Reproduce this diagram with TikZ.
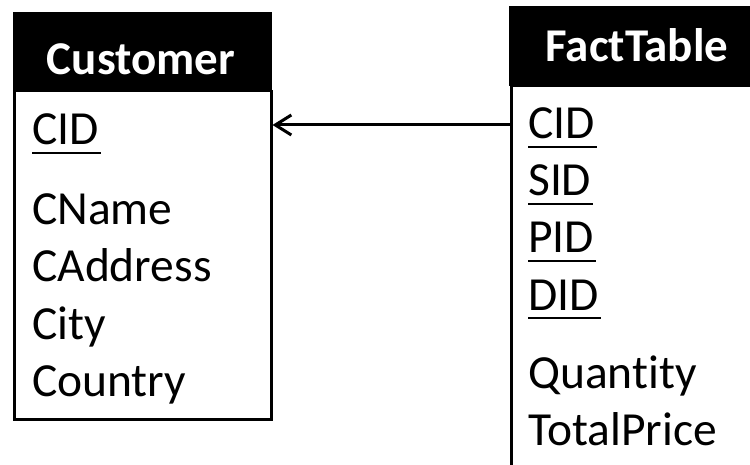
\documentclass[tikz,border=0pt]{standalone}
\usepackage{fontspec}
\setmainfont{Carlito}[Ligatures=NoCommon]
\usetikzlibrary{arrows.meta}
\begin{document}
\begin{tikzpicture}[x=1pt,y=-1pt,
  hdrbox/.style={fill=black, draw=black, line width=1pt, inner sep=0pt, anchor=north west},
  bodybox/.style={draw=black, line width=2.5pt, inner sep=0pt, anchor=north west},
  hdrtext/.style={text=white, font=\fontsize{47}{56}\selectfont\bfseries, inner sep=0pt, anchor=base},
  attr/.style={font=\fontsize{47.5}{57}\selectfont, inner sep=0pt, anchor=base west},
  uline/.style={line width=2.5pt},
  fk/.style={line width=3pt, -{Straight Barb[length=16pt,width=20pt,line width=3pt]}}]
\useasboundingbox (0,0) rectangle (750,465);
\clip (0,0) rectangle (750,465);
% Customer table
\node[bodybox, minimum width=257pt, minimum height=328pt] (custbody) at (13,90) {};
\node[hdrbox, minimum width=258pt, minimum height=78pt] (custhead) at (13,12) {};
\node[hdrtext] (custname) at (141,75) {Customer};
\node[attr] (ccid) at (32,145) {CID};
\node[attr] (cname) at (32,225) {CName};
\node[attr] (caddr) at (32,282) {CAddress};
\node[attr] (ccity) at (32,339) {City};
\node[attr] (ccountry) at (32,396) {Country};
\draw[uline] ([shift={(0pt,-8pt)}]ccid.base west) -- ([shift={(2pt,-8pt)}]ccid.base east);
% FactTable
\node[bodybox, minimum width=260pt, minimum height=395pt] (factbody) at (510,85) {};
\node[hdrbox, minimum width=257pt, minimum height=79pt] (facthead) at (509,6) {};
\node[hdrtext] (factname) at (637,62) {FactTable};
\node[attr] (fcid) at (528,139) {CID};
\node[attr] (fsid) at (528,196) {SID};
\node[attr] (fpid) at (528,253) {PID};
\node[attr] (fdid) at (528,310) {DID};
\node[attr] (fqty) at (528,388) {Quantity};
\node[attr] (fprice) at (528,445) {TotalPrice};
\foreach \n in {fcid,fsid,fpid,fdid}
  \draw[uline] ([shift={(0pt,-8pt)}]\n.base west) -- ([shift={(2pt,-8pt)}]\n.base east);
% reference
\coordinate (lvl) at (0,125);
\draw[fk] (factbody.west |- lvl) -- (custbody.east |- lvl);
\end{tikzpicture}
\end{document}
